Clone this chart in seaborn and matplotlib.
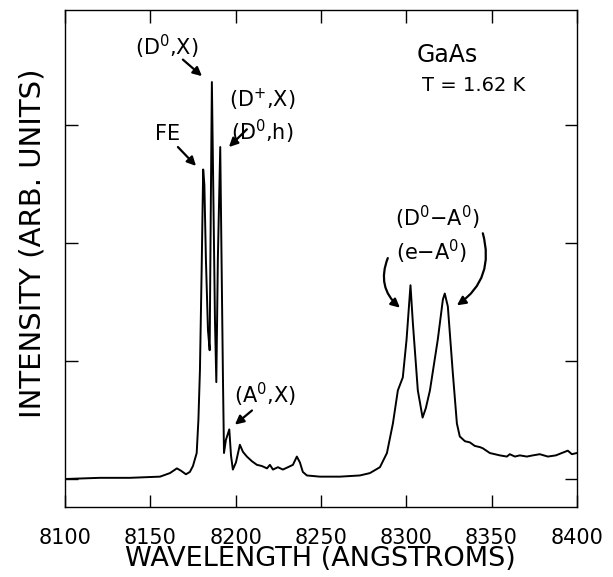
import matplotlib
matplotlib.use("Agg")
import matplotlib.pyplot as plt
import seaborn as sns
import pandas as pd

# Photoluminescence spectrum of GaAs at 1.62 K
wavelength = [
    8100.0, 8120.5, 8138.0, 8155.7, 8161.5, 8165.6, 8168.0, 8170.9, 8173.2, 8175.0,
    8177.2, 8178.2, 8179.1, 8180.1, 8181.0, 8181.7, 8182.6, 8183.8, 8184.8, 8185.5,
    8186.1, 8187.0, 8187.9, 8188.7, 8189.6, 8191.0, 8191.7, 8192.6, 8193.2, 8194.3,
    8196.3, 8197.3, 8198.4, 8200.2, 8202.5, 8204.3, 8206.6, 8209.6, 8212.5, 8215.4,
    8218.4, 8220.1, 8221.9, 8224.8, 8227.7, 8230.7, 8233.6, 8235.9, 8237.7, 8239.4,
    8241.8, 8249.4, 8261.1, 8272.8, 8278.7, 8284.6, 8288.7, 8292.2, 8295.1, 8298.0,
    8300.2, 8302.5, 8303.9, 8306.8, 8309.6, 8311.5, 8313.9, 8318.5, 8321.5, 8322.6,
    8324.4, 8327.3, 8329.7, 8331.4, 8334.4, 8337.3, 8340.2, 8343.2, 8344.9, 8349.0,
    8354.9, 8359.0, 8360.7, 8363.7, 8366.6, 8370.7, 8374.2, 8378.3, 8383.0, 8387.7,
    8391.2, 8394.7, 8397.1, 8400.0,
]
intensity = [
    0.00, 0.01, 0.01, 0.02, 0.05, 0.09, 0.07, 0.04, 0.06, 0.11,
    0.22, 0.50, 0.92, 1.77, 2.62, 2.49, 1.86, 1.26, 1.09, 2.36,
    3.36, 2.36, 1.35, 0.82, 1.86, 2.81, 1.94, 0.84, 0.22, 0.33,
    0.42, 0.20, 0.08, 0.14, 0.29, 0.23, 0.19, 0.15, 0.12, 0.11,
    0.09, 0.12, 0.08, 0.10, 0.08, 0.10, 0.12, 0.19, 0.14, 0.06,
    0.03, 0.02, 0.02, 0.03, 0.05, 0.10, 0.22, 0.47, 0.75, 0.86,
    1.18, 1.64, 1.32, 0.75, 0.52, 0.60, 0.75, 1.18, 1.52, 1.57,
    1.46, 0.90, 0.47, 0.36, 0.32, 0.31, 0.28, 0.27, 0.26, 0.22,
    0.20, 0.19, 0.21, 0.19, 0.20, 0.19, 0.20, 0.21, 0.19, 0.20,
    0.22, 0.24, 0.21, 0.22,
]

x_ticks = [8100, 8150, 8200, 8250, 8300, 8350, 8400]
x_tick_labels = ["8100", "8150", "8200", "8250", "8300", "8350", "8400"]
y_ticks = [0, 1, 2, 3]

df = pd.DataFrame({"wavelength": wavelength, "intensity": intensity})

sns.set_style("ticks")
plt.rcParams["font.family"] = ["DejaVu Sans"]
plt.rcParams["text.color"] = "black"
plt.rcParams["axes.labelcolor"] = "black"
plt.rcParams["xtick.color"] = "black"
plt.rcParams["ytick.color"] = "black"

fig = plt.figure(figsize=(6.13, 5.77), dpi=100)
ax = fig.add_axes([0.106, 0.1213, 0.835, 0.8614])

sns.lineplot(data=df, x="wavelength", y="intensity", ax=ax, color="black",
             linewidth=1.4, estimator=None, sort=False)

ax.set_xlim(8100, 8400)
ax.set_ylim(-0.237, 3.97)
ax.set_xticks(x_ticks)
ax.set_xticklabels(x_tick_labels)
ax.set_yticks(y_ticks)
ax.set_yticklabels([])
ax.tick_params(direction="in", length=9, width=1, top=True, right=True,
               labelsize=15, pad=15, colors="black")
for s in ax.spines.values():
    s.set_linewidth(1.0)
    s.set_color("black")

ax.set_xlabel("WAVELENGTH (ANGSTROMS)", fontsize=19.5)
ax.set_ylabel("INTENSITY (ARB. UNITS)", fontsize=21)
ax.xaxis.set_label_coords(0.498, -0.079)
ax.yaxis.set_label_coords(-0.036, 0.53)

fs = 15
arrow = dict(arrowstyle="-|>", color="black", lw=1.6, mutation_scale=13,
             shrinkA=0, shrinkB=0)

ax.text(8159.8, 3.66, r"(D$^\mathregular{0}$,X)", fontsize=fs, ha="center", va="center")
ax.annotate("", xy=(8180.3, 3.41), xytext=(8169.1, 3.55), arrowprops=arrow)

ax.text(8160.3, 2.92, "FE", fontsize=fs, ha="center", va="center")
ax.annotate("", xy=(8176.8, 2.65), xytext=(8166.2, 2.81), arrowprops=arrow)

ax.text(8215.5, 3.21, r"(D$^\mathregular{+}$,X)", fontsize=fs, ha="center", va="center")
ax.text(8215.5, 2.94, r"(D$^\mathregular{0}$,h)", fontsize=fs, ha="center", va="center")
ax.annotate("", xy=(8196.1, 2.81), xytext=(8206.6, 2.96), arrowprops=arrow)

ax.text(8217.2, 0.71, r"(A$^\mathregular{0}$,X)", fontsize=fs, ha="center", va="center")
ax.annotate("", xy=(8199.6, 0.46), xytext=(8209.6, 0.58), arrowprops=arrow)

ax.text(8318.5, 2.21, r"(D$^\mathregular{0}$$-$A$^\mathregular{0}$)", fontsize=fs, ha="center", va="center")
ax.text(8315.0, 1.92, r"(e$-$A$^\mathregular{0}$)", fontsize=fs, ha="center", va="center")
ax.annotate("", xy=(8296.3, 1.45), xytext=(8289.2, 1.87),
            arrowprops=dict(arrow, connectionstyle="arc3,rad=0.35"))
ax.annotate("", xy=(8329.7, 1.47), xytext=(8344.9, 2.08),
            arrowprops=dict(arrow, connectionstyle="arc3,rad=-0.35"))

ax.text(8323.8, 3.59, "GaAs", fontsize=17, ha="center", va="center")
ax.text(8339.6, 3.33, "T = 1.62 K", fontsize=14, ha="center", va="center")

fig.savefig("out.png", dpi=100)
